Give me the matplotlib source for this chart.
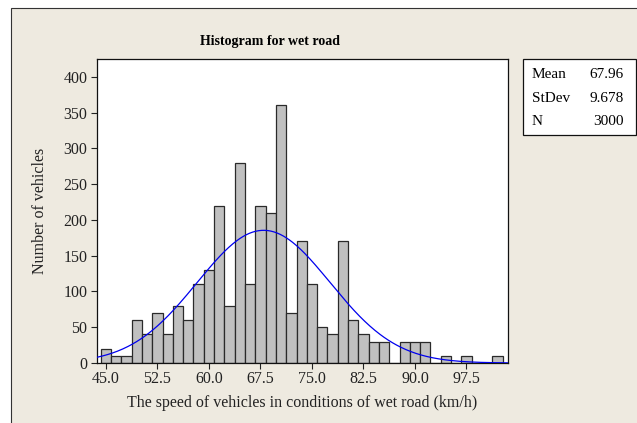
import numpy as np
import matplotlib
matplotlib.use("Agg")
import matplotlib.pyplot as plt
from matplotlib.patches import Rectangle

# ---- data ----
bin_centers = [45.0 + 1.5 * k for k in range(39)]
counts = [20, 10, 10, 60, 40, 70, 40, 80, 60, 110, 130, 220, 80, 280, 110,
          220, 210, 360, 70, 170, 110, 50, 40, 170, 60, 40, 30, 30, 0, 30,
          30, 30, 0, 10, 0, 10, 0, 0, 10]
bin_width = 1.5
mean_val = 67.96
std_val = 9.678
n_val = 3000
x_ticks = [45.0, 52.5, 60.0, 67.5, 75.0, 82.5, 90.0, 97.5]
y_ticks = [0, 50, 100, 150, 200, 250, 300, 350, 400]
stat_labels = ["Mean", "StDev", "N"]
stat_values = ["67.96", "9.678", "3000"]

plt.rcParams['font.family'] = ['Liberation Serif', 'DejaVu Serif']
plt.rcParams['font.size'] = 10

W, H = 637, 423
fig = plt.figure(figsize=(6.37, 4.23), dpi=100)
fig.patch.set_facecolor('white')
bg = '#EEEAE0'
fig.patches.append(Rectangle((11/W, -0.01), 1.0, 1 - 8/H + 0.01,
                             transform=fig.transFigure, facecolor=bg,
                             edgecolor='#333333', linewidth=0.8, zorder=-10))

ax = fig.add_axes([97/W, 1 - 363/H, (507.7 - 97)/W, (363 - 59)/H])
ax.set_zorder(1)
ax.set_facecolor('white')
ax.bar(bin_centers, counts, width=bin_width, color='#C0C0C0',
       edgecolor='#2a2a2a', linewidth=0.9, zorder=2)

xs = np.linspace(43.7, 103.5, 400)
pdf = np.exp(-0.5 * ((xs - mean_val) / std_val) ** 2) / (std_val * np.sqrt(2 * np.pi))
ax.plot(xs, n_val * bin_width * pdf, color='#0000EE', linewidth=0.9, zorder=3)

ax.set_xlim(43.7, 103.5)
ax.set_ylim(0, 425)
ax.set_xticks(x_ticks)
ax.set_xticklabels([f"{t:.1f}" for t in x_ticks])
ax.set_yticks(y_ticks)
ax.tick_params(direction='out', length=4, width=0.8, colors='#222222',
               labelsize=11.5, pad=3)
ax.tick_params(axis='x', pad=2)
for s in ax.spines.values():
    s.set_color('#111111')
    s.set_linewidth(0.9)

fig.text(302/W, 1 - 403/H, "The speed of vehicles in conditions of wet road (km/h)",
         ha='center', va='center', fontsize=11.5, color='#222222')
fig.text(40/W, 1 - 211/H, "Number of vehicles", ha='center', va='center',
         rotation=90, fontsize=11.5, color='#222222')

fig.text(270/W, 1 - 41/H, "Histogram for wet road", ha='center',
         va='center', fontsize=10, fontweight='bold')

# stats box
fig.patches.append(Rectangle((522.7/W, 1 - 135/H), 113/W, 76/H,
                             transform=fig.transFigure, facecolor='white',
                             edgecolor='#111111', linewidth=0.9, zorder=1))
row_y = [74.3, 98.0, 121.7]
for lab, val, yy in zip(stat_labels, stat_values, row_y):
    fig.text(531.7/W, 1 - yy/H, lab, ha='left', va='center', fontsize=11, zorder=2)
    fig.text(624/W, 1 - yy/H, val, ha='right', va='center', fontsize=11, zorder=2)

fig.savefig("out.png", dpi=100, facecolor=fig.get_facecolor())
